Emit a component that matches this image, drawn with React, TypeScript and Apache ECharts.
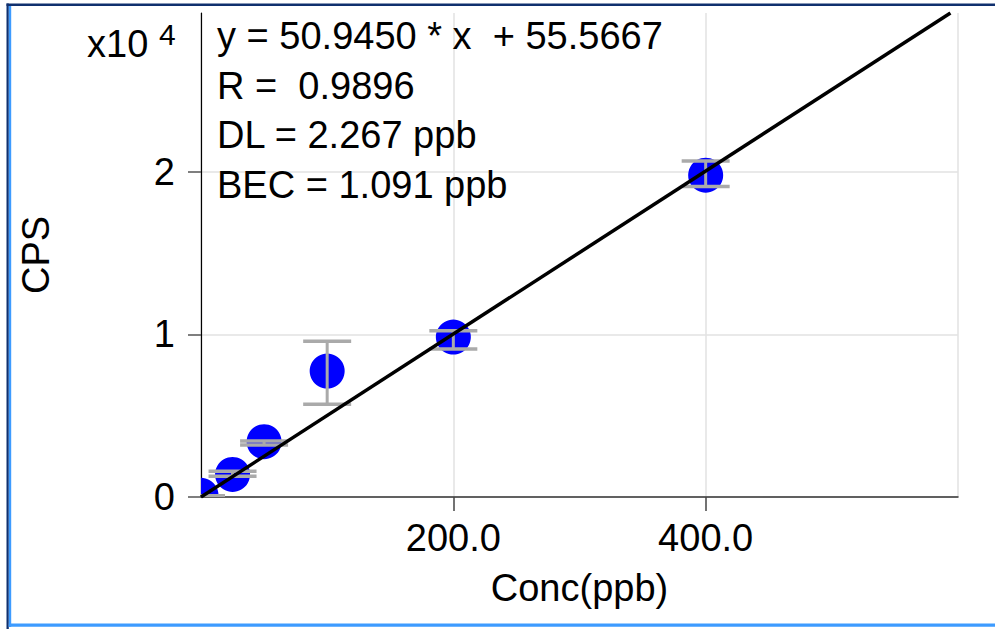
import React, { useEffect, useRef } from "react";
import * as echarts from "echarts";

// ---- data ----
const concValues = [0, 25, 50, 100, 200, 400];
const cpsValues = [100, 1390, 3400, 7740, 9830, 19780];
const errLow = [0, 1270, 3200, 5700, 9090, 19090];
const errHigh = [80, 1580, 3440, 9570, 10220, 20660];
const fitX = [0, 594];
const fitY = [0, 29750];
const xTickValues = [0, 200, 400, 600];
const yTickValues = [0, 10000, 20000];
const annotationLines = [
  "y = 50.9450 * x  + 55.5667",
  "R =  0.9896",
  "DL = 2.267 ppb",
  "BEC = 1.091 ppb",
];
const yScaleLabel = "x10";
const yScaleExp = "4";

const FONT = '"Liberation Sans", Arial, Helvetica, sans-serif';

export default function App() {
  const ref = useRef<HTMLDivElement>(null);

  useEffect(() => {
    if (!ref.current) return;
    const chart = echarts.init(ref.current, undefined, { renderer: "svg" });

    const points = concValues.map((x, i) => [x, cpsValues[i]]);
    const bars = concValues.map((x, i) => [x, errLow[i], errHigh[i]]);
    const fit = fitX.map((x, i) => [x, fitY[i]]);

    const option: any = {
      animation: false,
      backgroundColor: "#ffffff",
      grid: { left: 201, right: 37, top: 13, bottom: 132, containLabel: false },
      xAxis: {
        type: "value",
        min: 0,
        max: 600,
        interval: 200,
        offset: 4,
        name: "Conc(ppb)",
        nameLocation: "middle",
        nameGap: 68,
        nameTextStyle: { fontSize: 38, fontFamily: FONT, color: "#000" },
        axisLine: { show: true, lineStyle: { color: "#333", width: 1.5 } },
        axisTick: { show: true, length: 14, lineStyle: { color: "#444", width: 1.5 }, customValues: xTickValues },
        axisLabel: {
          show: true,
          fontSize: 38,
          fontFamily: FONT,
          color: "#000",
          margin: 18,
          showMinLabel: false,
          showMaxLabel: false,
          formatter: (v: number) => (v === 0 || v === 600 ? "" : v.toFixed(1)),
        },
        splitLine: { show: true, lineStyle: { color: "#e2e2e2", width: 1.5 } },
      },
      yAxis: {
        type: "value",
        min: 0,
        max: 29750,
        interval: 10000,
        offset: 4,
        name: "CPS",
        nameLocation: "middle",
        nameGap: 142,
        nameRotate: 90,
        nameTextStyle: { fontSize: 38, fontFamily: FONT, color: "#000" },
        axisLine: { show: true, lineStyle: { color: "#000", width: 1.2 } },
        axisTick: { show: true, length: 13, lineStyle: { color: "#555", width: 1.5 }, customValues: yTickValues },
        axisLabel: {
          show: true,
          fontSize: 38,
          fontFamily: FONT,
          color: "#000",
          margin: 22,
          customValues: yTickValues,
          formatter: (v: number) => String(Math.round(v / 10000)),
        },
        splitLine: { show: true, lineStyle: { color: "#e2e2e2", width: 1.5 } },
      },
      series: [
        {
          type: "custom",
          name: "points",
          clip: true,
          z: 2,
          data: points,
          encode: { x: 0, y: 1 },
          renderItem: (params: any, api: any) => {
            const c = api.coord([api.value(0), api.value(1)]);
            return {
              type: "circle",
              shape: { cx: c[0], cy: c[1], r: 17.5 },
              style: { fill: "#0000ff" },
            };
          },
        },
        {
          type: "custom",
          name: "error",
          clip: true,
          z: 3,
          data: bars,
          encode: { x: 0, y: [1, 2] },
          renderItem: (params: any, api: any) => {
            const lo = api.coord([api.value(0), api.value(1)]);
            const hi = api.coord([api.value(0), api.value(2)]);
            const hw = 24;
            const st = { stroke: "#aaaaaa", lineWidth: 3.5 };
            return {
              type: "group",
              children: [
                { type: "line", shape: { x1: lo[0], y1: lo[1], x2: hi[0], y2: hi[1] }, style: { stroke: "#aaaaaa", lineWidth: 3 } },
                { type: "line", shape: { x1: lo[0] - hw, y1: lo[1], x2: lo[0] + hw, y2: lo[1] }, style: st },
                { type: "line", shape: { x1: hi[0] - hw, y1: hi[1], x2: hi[0] + hw, y2: hi[1] }, style: st },
              ],
            };
          },
        },
        {
          type: "line",
          name: "fit",
          data: fit,
          showSymbol: false,
          symbol: "none",
          clip: true,
          z: 4,
          lineStyle: { color: "#000", width: 3.5 },
        },
      ],
      graphic: [
        { type: "rect", shape: { x: 6.5, y: 3.5, width: 990, height: 2.6 }, style: { fill: "#10306e" }, silent: true },
        { type: "rect", shape: { x: 6.5, y: 3.5, width: 2.3, height: 626 }, style: { fill: "#10306e" }, silent: true },
        { type: "rect", shape: { x: 8.8, y: 6, width: 2.4, height: 621 }, style: { fill: "#3d9bff" }, silent: true },
        { type: "rect", shape: { x: 8.8, y: 623.5, width: 990, height: 3.3 }, style: { fill: "#3d9bff" }, silent: true },
        {
          type: "text",
          x: 87,
          y: 44,
          style: { text: yScaleLabel, fontSize: 38, fontFamily: FONT, fill: "#000", verticalAlign: "middle", align: "left" },
        },
        {
          type: "text",
          x: 159,
          y: 34,
          style: { text: yScaleExp, fontSize: 30, fontFamily: FONT, fill: "#000", verticalAlign: "middle", align: "left" },
        },
        ...annotationLines.map((t, i) => ({
          type: "text",
          x: 217,
          y: 36 + i * 49.6,
          z: 10,
          style: { text: t, fontSize: 38, fontFamily: FONT, fill: "#000", verticalAlign: "middle", align: "left" },
        })),
      ],
    };

    chart.setOption(option);
    return () => chart.dispose();
  }, []);

  return (
    <div
      ref={ref}
      style={{ position: "absolute", left: 0, top: 0, width: 995, height: 629, background: "#fff" }}
    />
  );
}
